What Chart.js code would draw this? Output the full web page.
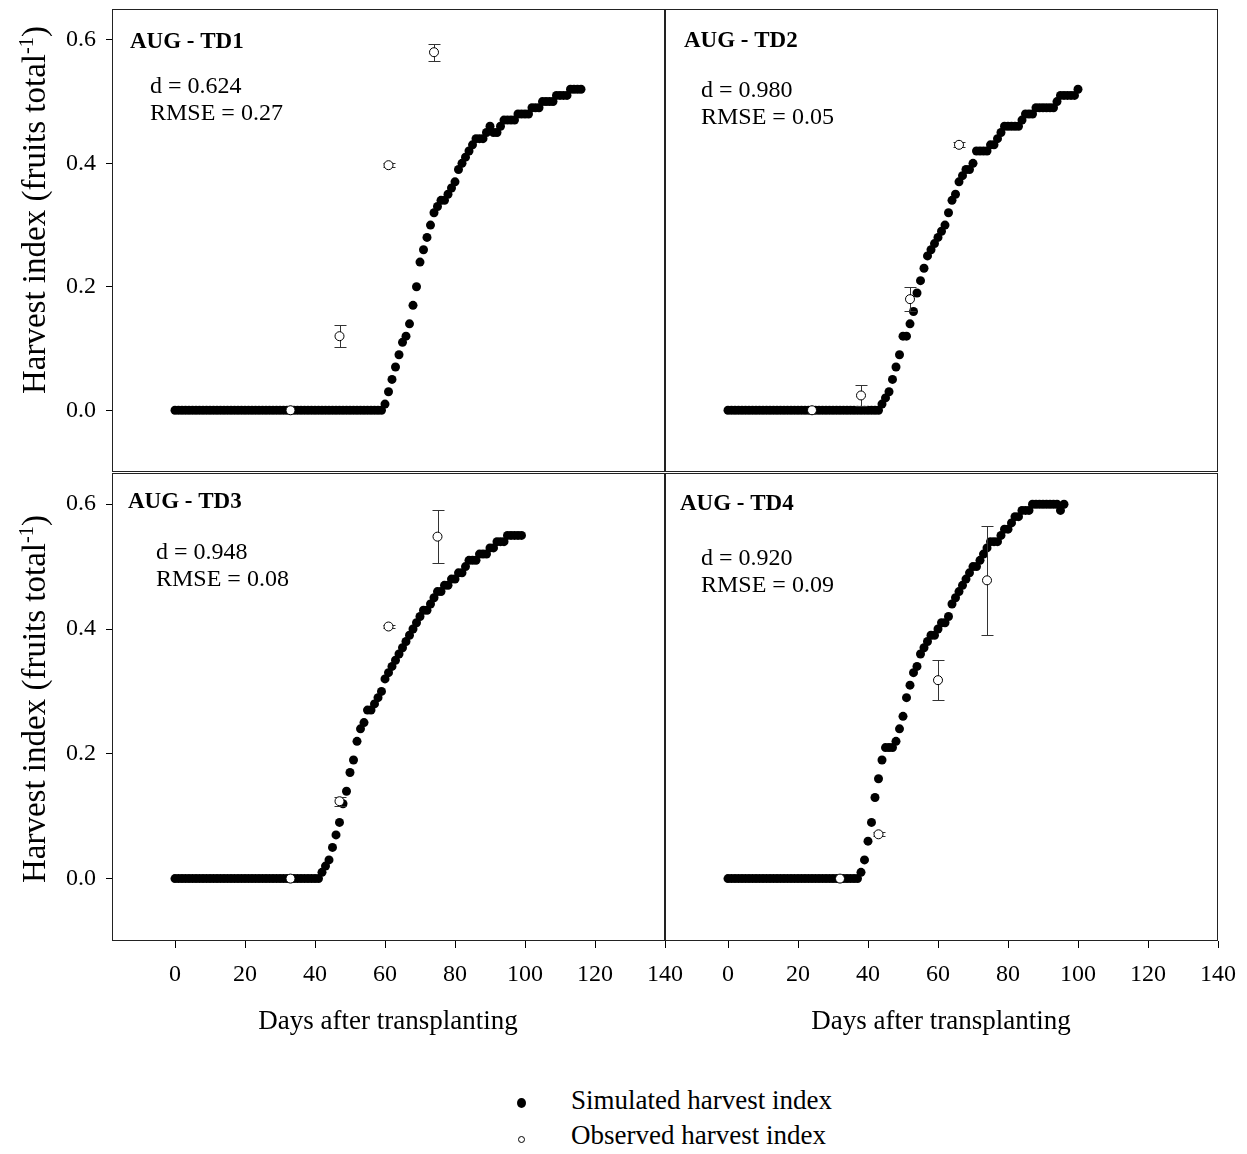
<!DOCTYPE html>
<html>
<head>
<meta charset="utf-8">
<script src="https://cdn.jsdelivr.net/npm/chart.js@4.4.0/dist/chart.umd.min.js"></script>
<style>
body { margin:0; background:#fff; width:1247px; height:1154px; position:relative; overflow:hidden;
       font-family:"Liberation Serif","Times New Roman",serif; color:#000; }
canvas { position:absolute; }
.ytitle { position:absolute; font-size:33px; line-height:33px; white-space:nowrap;
          transform:translate(-50%,-50%) rotate(-90deg); }
.ytitle sup { font-size:0.62em; line-height:0; }
.xtitle { position:absolute; width:400px; text-align:center; font-size:27px; line-height:27px; white-space:nowrap; }
.leg { position:absolute; font-size:27px; line-height:27px; white-space:nowrap; }
.dot { position:absolute; border-radius:50%; box-sizing:border-box; }
</style>
</head>
<body>
<canvas id="td1" width="690" height="480" style="left:0;top:0"></canvas>
<canvas id="td2" width="607" height="480" style="left:640px;top:0"></canvas>
<canvas id="td3" width="690" height="545" style="left:0;top:465px"></canvas>
<canvas id="td4" width="607" height="545" style="left:640px;top:465px"></canvas>

<div class="ytitle" style="left:34px;top:210px">Harvest index (fruits total<sup>-1</sup>)</div>
<div class="ytitle" style="left:34px;top:699px">Harvest index (fruits total<sup>-1</sup>)</div>
<div class="xtitle" style="left:188px;top:1007px">Days after transplanting</div>
<div class="xtitle" style="left:741px;top:1007px">Days after transplanting</div>

<div class="dot" style="left:517px;top:1098px;width:9px;height:10px;background:#000"></div>
<div class="leg" style="left:571px;top:1087px">Simulated harvest index</div>
<div class="dot" style="left:518px;top:1136px;width:7px;height:7px;border:1px solid #000;background:#fff"></div>
<div class="leg" style="left:571px;top:1122px">Observed harvest index</div>

<script>
const xTicks = [0, 20, 40, 60, 80, 100, 120, 140];
const yTicks = [0, 0.2, 0.4, 0.6];

// simulated harvest index, one value per day after transplanting (index = day)
const simTD1 = [
  0,0,0,0,0,0,0,0,0,0, 0,0,0,0,0,0,0,0,0,0, 0,0,0,0,0,0,0,0,0,0,
  0,0,0,0,0,0,0,0,0,0, 0,0,0,0,0,0,0,0,0,0, 0,0,0,0,0,0,0,0,0,0,
  0.01,0.03,0.05,0.07,0.09,0.11,0.12,0.14,0.17,0.20,
  0.24,0.26,0.28,0.30,0.32,0.33,0.34,0.34,0.35,0.36,
  0.37,0.39,0.40,0.41,0.42,0.43,0.44,0.44,0.44,0.45,
  0.46,0.45,0.45,0.46,0.47,0.47,0.47,0.47,0.48,0.48,
  0.48,0.48,0.49,0.49,0.49,0.50,0.50,0.50,0.50,0.51,
  0.51,0.51,0.51,0.52,0.52,0.52,0.52
];
const simTD2 = [
  0,0,0,0,0,0,0,0,0,0, 0,0,0,0,0,0,0,0,0,0, 0,0,0,0,0,0,0,0,0,0,
  0,0,0,0,0,0,0,0,0,0, 0,0,0,0,
  0.01,0.02,0.03,0.05,0.07,0.09,0.12,0.12,0.14,0.16,
  0.19,0.21,0.23,0.25,0.26,0.27,0.28,0.29,0.30,0.32,
  0.34,0.35,0.37,0.38,0.39,0.39,0.40,0.42,0.42,0.42,
  0.42,0.43,0.43,0.44,0.45,0.46,0.46,0.46,0.46,0.46,
  0.47,0.48,0.48,0.48,0.49,0.49,0.49,0.49,0.49,0.49,
  0.50,0.51,0.51,0.51,0.51,0.51,0.52
];
const simTD3 = [
  0,0,0,0,0,0,0,0,0,0, 0,0,0,0,0,0,0,0,0,0, 0,0,0,0,0,0,0,0,0,0,
  0,0,0,0,0,0,0,0,0,0, 0,0,
  0.01,0.02,0.03,0.05,0.07,0.09,0.12,0.14,0.17,0.19,
  0.22,0.24,0.25,0.27,0.27,0.28,0.29,0.30,0.32,0.33,
  0.34,0.35,0.36,0.37,0.38,0.39,0.40,0.41,0.42,0.43,
  0.43,0.44,0.45,0.46,0.46,0.47,0.47,0.48,0.48,0.49,
  0.49,0.50,0.51,0.51,0.51,0.52,0.52,0.52,0.53,0.53,
  0.54,0.54,0.54,0.55,0.55,0.55,0.55,0.55
];
const simTD4 = [
  0,0,0,0,0,0,0,0,0,0, 0,0,0,0,0,0,0,0,0,0, 0,0,0,0,0,0,0,0,0,0,
  0,0,0,0,0,0,0,0,
  0.01,0.03,0.06,0.09,0.13,0.16,0.19,0.21,0.21,0.21,
  0.22,0.24,0.26,0.29,0.31,0.33,0.34,0.36,0.37,0.38,
  0.39,0.39,0.40,0.41,0.41,0.42,0.44,0.45,0.46,0.47,
  0.48,0.49,0.50,0.50,0.51,0.52,0.53,0.54,0.54,0.54,
  0.55,0.56,0.56,0.57,0.58,0.58,0.59,0.59,0.59,0.60,
  0.60,0.60,0.60,0.60,0.60,0.60,0.60,0.59,0.60
];

// observed harvest index with error bars
const obsDaysTD1 = [33, 47, 61, 74];
const obsTD1 = [0, 0.12, 0.397, 0.58];
const errTD1 = [0, 0.018, 0.003, 0.014];
const obsDaysTD2 = [24, 38, 52, 66];
const obsTD2 = [0, 0.024, 0.18, 0.43];
const errTD2 = [0, 0.017, 0.02, 0.004];
const obsDaysTD3 = [33, 47, 61, 75];
const obsTD3 = [0, 0.124, 0.404, 0.548];
const errTD3 = [0, 0.007, 0.003, 0.043];
const obsDaysTD4 = [32, 43, 60, 74];
const obsTD4 = [0, 0.071, 0.318, 0.478];
const errTD4 = [0, 0.003, 0.032, 0.087];

const panelNames = ["AUG - TD1", "AUG - TD2", "AUG - TD3", "AUG - TD4"];
const dStats = ["d = 0.624", "d = 0.980", "d = 0.948", "d = 0.920"];
const rmseStats = ["RMSE = 0.27", "RMSE = 0.05", "RMSE = 0.08", "RMSE = 0.09"];

const serif = "'Liberation Serif', 'Times New Roman', serif";
Chart.defaults.font.family = serif;
Chart.defaults.color = "#000";

// frame round each plot area
const framePlugin = {
  id: "frame",
  afterDraw(chart) {
    const a = chart.chartArea, ctx = chart.ctx;
    ctx.save();
    ctx.strokeStyle = "#222";
    ctx.lineWidth = 1;
    ctx.strokeRect(Math.round(a.left) + 0.5, Math.round(a.top) + 0.5,
      Math.round(a.right - a.left) - 1, Math.round(a.bottom - a.top) - 1);
    ctx.restore();
  }
};

// error bars, drawn just before the open circles
const errorPlugin = {
  id: "errbars",
  beforeDatasetDraw(chart, args) {
    const ds = chart.data.datasets[args.index];
    if (!ds.errors) return;
    const ctx = chart.ctx, xs = chart.scales.x, ys = chart.scales.y;
    ctx.save();
    ctx.strokeStyle = "#333";
    ctx.lineWidth = 1;
    ds.data.forEach((p, i) => {
      const e = ds.errors[i];
      if (!e) return;
      const x = Math.round(xs.getPixelForValue(p.x)) + 0.5;
      const y1 = Math.round(ys.getPixelForValue(p.y + e)) + 0.5;
      const y2 = Math.round(ys.getPixelForValue(p.y - e)) + 0.5;
      ctx.beginPath();
      ctx.moveTo(x, y1); ctx.lineTo(x, y2);
      ctx.moveTo(x - 6, y1); ctx.lineTo(x + 6, y1);
      ctx.moveTo(x - 6, y2); ctx.lineTo(x + 6, y2);
      ctx.stroke();
    });
    ctx.restore();
  }
};

// panel name and fit statistics
const notePlugin = {
  id: "notes",
  afterDraw(chart, args, o) {
    const a = chart.chartArea, ctx = chart.ctx;
    ctx.save();
    ctx.fillStyle = "#000";
    ctx.textAlign = "left";
    ctx.textBaseline = "alphabetic";
    ctx.font = "bold 23px " + serif;
    ctx.fillText(o.name, a.left + o.lx, a.top + o.ly);
    ctx.font = "24px " + serif;
    ctx.fillText(o.d, a.left + o.sx, a.top + o.sy);
    ctx.fillText(o.rmse, a.left + o.sx, a.top + o.sy + 27);
    ctx.restore();
  }
};

function makePanel(id, sim, obsDays, obs, err, k, showX, showY, pad, notePos) {
  new Chart(document.getElementById(id), {
    type: "scatter",
    data: {
      datasets: [
        {
          label: "Simulated harvest index",
          data: sim.map((v, i) => ({ x: i, y: v })),
          pointRadius: 4.5,
          pointBorderWidth: 0,
          pointBackgroundColor: "#000",
          order: 2
        },
        {
          label: "Observed harvest index",
          data: obsDays.map((d, i) => ({ x: d, y: obs[i] })),
          errors: err,
          pointRadius: 4.5,
          pointBorderWidth: 1,
          pointBorderColor: "#000",
          pointBackgroundColor: "#fff",
          order: 1
        }
      ]
    },
    options: {
      responsive: false,
      animation: false,
      devicePixelRatio: 1,
      events: [],
      layout: { padding: pad },
      plugins: {
        legend: { display: false },
        tooltip: { enabled: false },
        notes: Object.assign({ name: panelNames[k], d: dStats[k], rmse: rmseStats[k] }, notePos)
      },
      scales: {
        x: {
          type: "linear",
          min: -18,
          max: 140,
          display: showX,
          afterBuildTicks: s => { s.ticks = xTicks.map(v => ({ value: v })); },
          afterFit: s => { s.height = showX ? 69 : 0; s.paddingLeft = 0; s.paddingRight = 0; },
          border: { display: false },
          grid: { drawOnChartArea: false, drawTicks: true, tickLength: 7, color: "#000" },
          ticks: { font: { size: 24 }, color: "#000", padding: 12, maxRotation: 0, autoSkip: false }
        },
        y: {
          type: "linear",
          min: -0.1,
          max: 0.65,
          display: showY,
          afterBuildTicks: s => { s.ticks = yTicks.map(v => ({ value: v })); },
          afterFit: s => { s.width = showY ? 112 : 0; s.paddingTop = 0; s.paddingBottom = 0; },
          border: { display: false },
          grid: { drawOnChartArea: false, drawTicks: true, tickLength: 6, color: "#000" },
          ticks: { font: { size: 24 }, color: "#000", padding: 10, callback: v => v.toFixed(1) }
        }
      }
    },
    plugins: [framePlugin, errorPlugin, notePlugin]
  });
}

makePanel("td1", simTD1, obsDaysTD1, obsTD1, errTD1, 0, false, true,
  { top: 9, bottom: 8, left: 0, right: 25 }, { lx: 18, ly: 39, sx: 38, sy: 84 });
makePanel("td2", simTD2, obsDaysTD2, obsTD2, errTD2, 1, false, false,
  { top: 9, bottom: 8, left: 25, right: 29 }, { lx: 19, ly: 38, sx: 36, sy: 88 });
makePanel("td3", simTD3, obsDaysTD3, obsTD3, errTD3, 2, true, true,
  { top: 8, bottom: 0, left: 0, right: 25 }, { lx: 16, ly: 35, sx: 44, sy: 86 });
makePanel("td4", simTD4, obsDaysTD4, obsTD4, errTD4, 3, true, false,
  { top: 8, bottom: 0, left: 25, right: 29 }, { lx: 15, ly: 37, sx: 36, sy: 92 });
</script>
</body>
</html>
